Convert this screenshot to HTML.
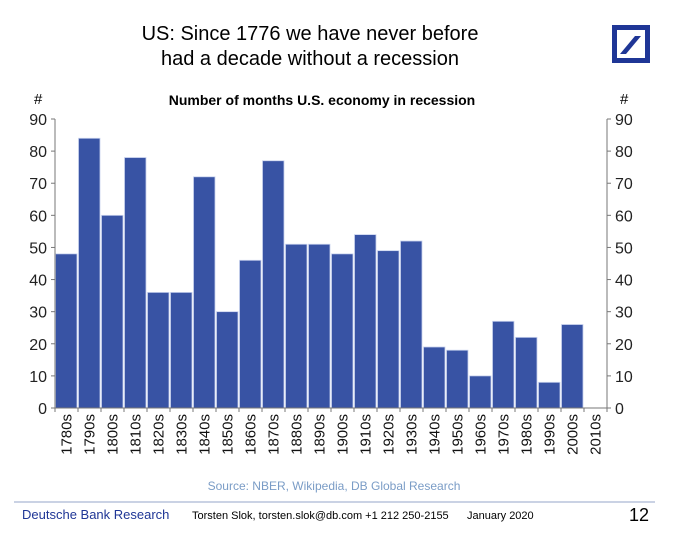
<!DOCTYPE html>
<html><head><meta charset="utf-8"><style>
body{margin:0;background:#fff;font-family:"Liberation Sans",Arial,sans-serif;}
svg text{font-family:"Liberation Sans",Arial,sans-serif;}
</style></head><body>
<svg width="681" height="539" viewBox="0 0 681 539" xmlns="http://www.w3.org/2000/svg">
<text x="310" y="40" font-size="20" text-anchor="middle" fill="#000">US: Since 1776 we have never before</text>
<text x="310" y="65" font-size="20" text-anchor="middle" fill="#000">had a decade without a recession</text>
<g>
<rect x="614.5" y="27.5" width="33" height="33" fill="none" stroke="#1f3696" stroke-width="5"/>
<polygon points="620,54 626,54 641,36 635,36" fill="#1f3696"/>
</g>
<text x="322" y="105" font-size="14" font-weight="bold" text-anchor="middle">Number of months U.S. economy in recession</text>
<text x="34" y="104" font-size="15">#</text>
<text x="620" y="104" font-size="15">#</text>
<g id="chart"></g>
<text x="334" y="490" font-size="12" fill="#7a9cc6" text-anchor="middle">Source: NBER, Wikipedia, DB Global Research</text>
<line x1="14" y1="502" x2="655" y2="502" stroke="#b8c4dc" stroke-width="1.5"/>
<text x="22" y="519" font-size="13" fill="#1f3696">Deutsche Bank Research</text>
<text x="192" y="519" font-size="11" fill="#000">Torsten Slok, torsten.slok@db.com  +1 212 250-2155</text>
<text x="467" y="519" font-size="11" fill="#000">January 2020</text>
<text x="649" y="521" font-size="18" fill="#000" text-anchor="end">12</text>
</svg>
<script>
const categories=["1780s","1790s","1800s","1810s","1820s","1830s","1840s","1850s","1860s","1870s","1880s","1890s","1900s","1910s","1920s","1930s","1940s","1950s","1960s","1970s","1980s","1990s","2000s","2010s"];
const values=[48,84,60,78,36,36,72,30,46,77,51,51,48,54,49,52,19,18,10,27,22,8,26,0];
const ticks=[0,10,20,30,40,50,60,70,80,90];
const NS="http://www.w3.org/2000/svg";
const g=document.getElementById("chart");
const x0=55,x1=607,y0=408,y1=119,ymax=90;
const bw=(x1-x0)/categories.length;
const X=i=>x0+i*bw;
const Y=v=>y0-(v/ymax)*(y0-y1);
function mk(t,a){const e=document.createElementNS(NS,t);for(const k in a)e.setAttribute(k,a[k]);g.appendChild(e);return e;}
values.forEach((v,i)=>{if(v<=0)return;
const r=mk("rect",{x:X(i)+0.5,y:Y(v),width:bw-1.5,height:y0-Y(v),fill:"#3853a4",stroke:"#c9d3ee","stroke-width":0.8});

});
let a=mk("line",{x1:x0,y1:y1,x2:x0,y2:y0,stroke:"#777"});


a=mk("line",{x1:x1,y1:y1,x2:x1,y2:y0,stroke:"#777"});


a=mk("line",{x1:x0,y1:y0,x2:x1,y2:y0,stroke:"#777"});


ticks.forEach(t=>{
mk("line",{x1:x0-4,x2:x0,y1:Y(t),y2:Y(t),stroke:"#777"});
mk("line",{x1:x1,x2:x1+4,y1:Y(t),y2:Y(t),stroke:"#777"});
const l=mk("text",{x:x0-8,y:Y(t)+6,"font-size":16,"text-anchor":"end",fill:"#222"});l.textContent=t;


const r=mk("text",{x:x1+8,y:Y(t)+6,"font-size":16,fill:"#222"});r.textContent=t;

});
categories.forEach((c,i)=>{
mk("line",{x1:X(i),x2:X(i),y1:y0,y2:y0+4,stroke:"#777"});
const cx=X(i)+bw/2+5;
const t=mk("text",{x:cx,y:y0+6,"font-size":15,"text-anchor":"end",transform:`rotate(-90 ${cx} ${y0+6})`,fill:"#111"});
t.textContent=c;

});
mk("line",{x1:x1,x2:x1,y1:y0,y2:y0+4,stroke:"#777"});
</script>
</body></html>
